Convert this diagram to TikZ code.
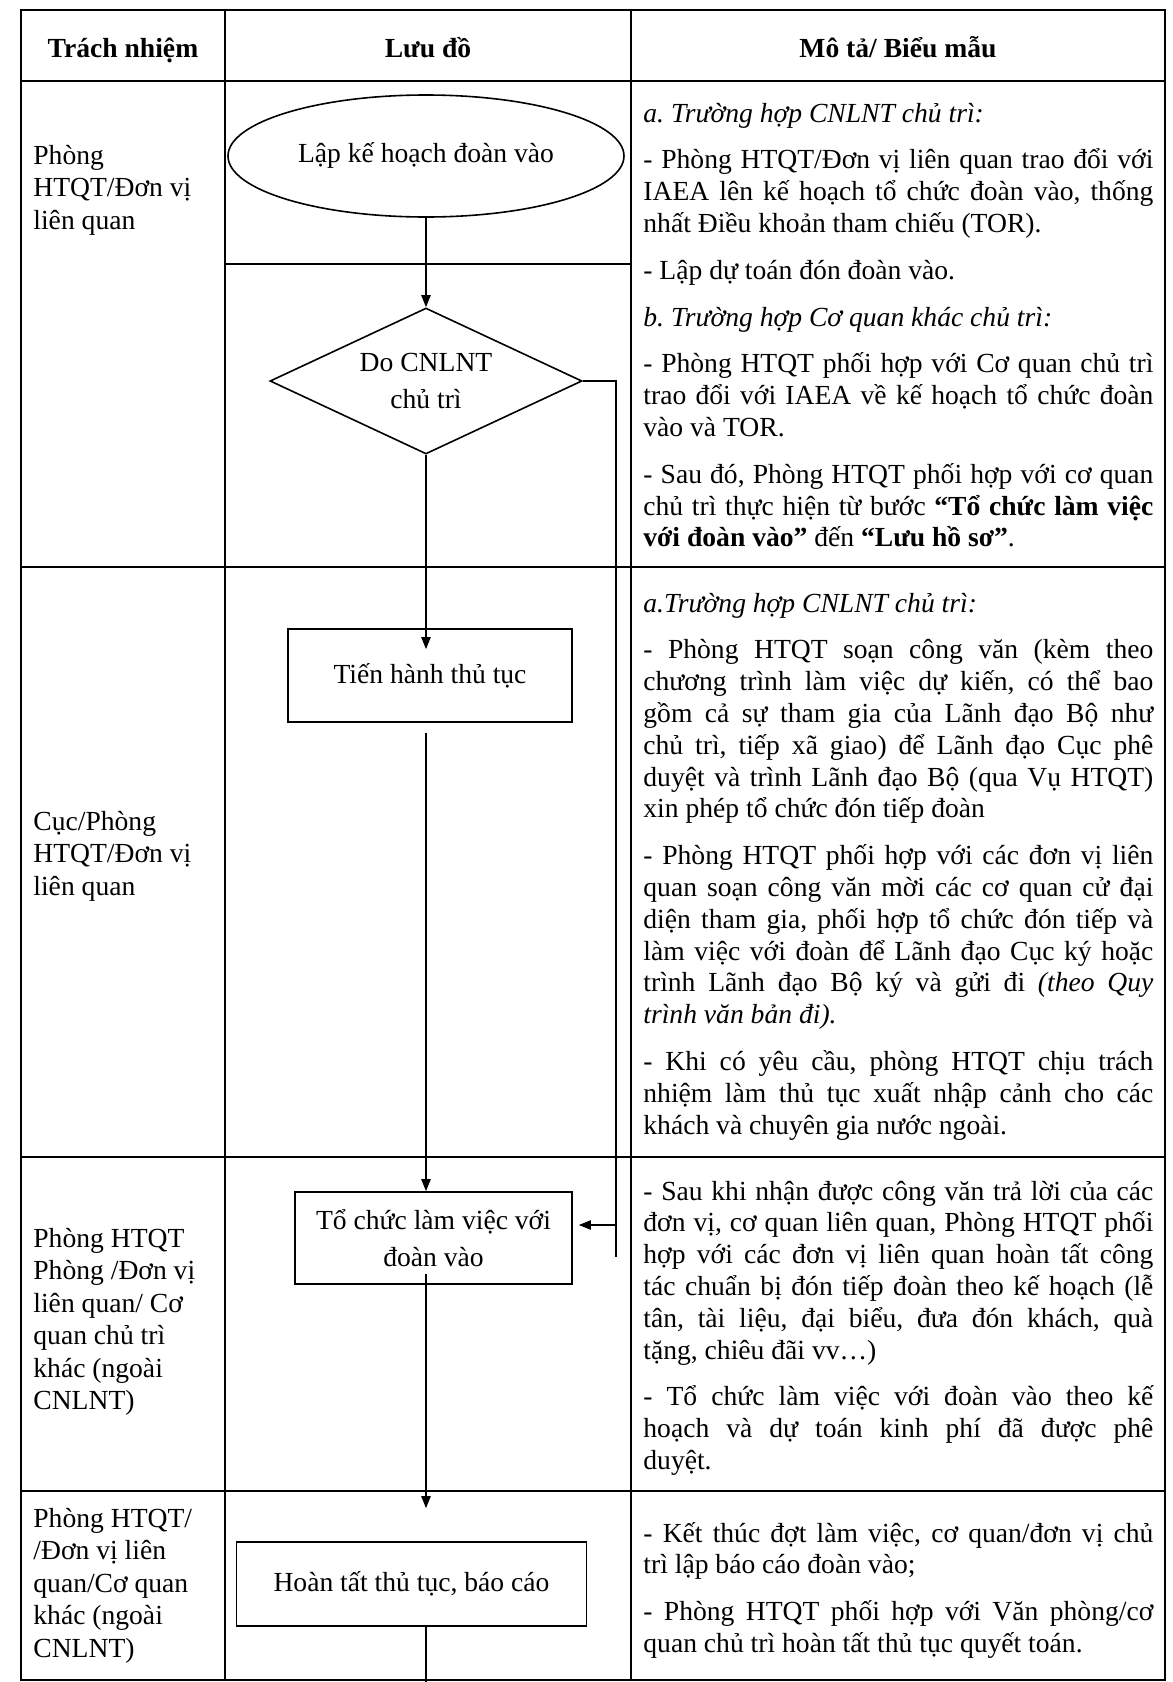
\documentclass[tikz,border=0pt]{standalone}
\usepackage{fontspec}
\setmainfont{Liberation Serif}
\usetikzlibrary{shapes.geometric,arrows.meta}
\newcommand{\flowfont}{\fontsize{13.8pt}{18.5pt}\selectfont}
\newcommand{\np}{\par\vspace{7.5pt}}
\begin{document}
\frenchspacing
\hyphenpenalty=10000
\exhyphenpenalty=10000
\begin{tikzpicture}[x=0.5pt,y=-0.5pt,
  tbl/.style={line width=1.1pt},
  shp/.style={draw,line width=0.8pt,inner sep=0pt,align=center,font=\flowfont},
  flow/.style={line width=0.8pt},
  arr/.style={line width=0.8pt,-{Triangle[length=6pt,width=4.6pt]}},
  hdr/.style={anchor=base,inner sep=0pt,font=\bfseries\fontsize{13.8pt}{16pt}\selectfont},
  who/.style={anchor=base west,text width=90pt,align=flush left,inner sep=0pt,font=\fontsize{13.8pt}{16.25pt}\selectfont},
  desc/.style={anchor=base west,text width=255pt,align=justify,inner sep=0pt,font=\fontsize{13.8pt}{15.9pt}\selectfont},
]
\useasboundingbox (0,0) rectangle (1173,1682);
\fill[white] (0,0) rectangle (1173,1682);

% table
\draw[tbl] (21,10) rectangle (1165,1680);
\draw[tbl] (21,81) -- (1165,81);
\draw[tbl] (21,567) -- (1165,567);
\draw[tbl] (21,1157) -- (1165,1157);
\draw[tbl] (21,1491) -- (1165,1491);
\draw[tbl] (225,10) -- (225,1680);
\draw[tbl] (631,10) -- (631,1680);
\draw[tbl] (225,264) -- (631,264);

% headers
\node[hdr] (h1) at (123,57) {Trách nhiệm};
\node[hdr] (h2) at (428,57) {Lưu đồ};
\node[hdr] (h3) at (898,57) {Mô tả/ Biểu mẫu};

% responsibility column
\node[who] (w1) at (33,164) {Phòng\\HTQT/Đơn vị\\liên quan};
\node[who] (w2) at (33,830) {Cục/Phòng\\HTQT/Đơn vị\\liên quan};
\node[who] (w3) at (33,1247) {Phòng HTQT\\Phòng /Đơn vị\\liên quan/ Cơ\\quan chủ trì\\khác (ngoài\\CNLNT)};
\node[who] (w4) at (33,1527) {Phòng HTQT/\\/Đơn vị liên\\quan/Cơ quan\\khác (ngoài\\CNLNT)};

% flowchart
\node[ellipse,shp,minimum width=198pt,minimum height=61pt] (ell) at (426,156) {\raisebox{3pt}{Lập kế hoạch đoàn vào}};
\node[diamond,shp,aspect=2.1,minimum width=156pt,minimum height=73pt] (dia) at (426,381) {Do CNLNT\\chủ trì};
\node[rectangle,shp,minimum width=142pt,minimum height=46.5pt] (tien) at (430,675.5) {Tiến hành thủ tục};
\node[rectangle,shp,minimum width=138.5pt,minimum height=46pt] (toch) at (433.5,1238) {Tổ chức làm việc với\\đoàn vào};
\node[rectangle,shp,minimum width=175pt,minimum height=42pt] (hoan) at (411.5,1584) {Hoàn tất thủ tục, báo cáo};

\coordinate (sideend) at (616,1257);
\coordinate (bottomend) at (426,1694);

\draw[arr] (ell.south) -- (dia.north);
\draw[arr] (dia.south) -- ([yshift=-10.5pt]tien.north -| dia.south);
\draw[arr] ([yshift=-5pt]tien.south -| dia.south) -- (toch.north -| dia.south);
\draw[arr] ([yshift=5.5pt]toch.south -| dia.south) -- ([yshift=16.5pt]hoan.north -| dia.south);
\draw[arr] (hoan.south -| dia.south) -- (bottomend);
\draw[flow] (dia.east) -- (dia.east -| sideend) -- (sideend);
\draw[arr,shorten >=3pt] ([yshift=6.5pt]toch.east -| sideend) -- ([yshift=6.5pt]toch.east);

% descriptions
\node[desc] (d1) at (643,122) {\textit{a. Trường hợp CNLNT chủ trì:}\np
- Phòng HTQT/Đơn vị liên quan trao đổi với \linebreak IAEA lên kế hoạch tổ chức đoàn vào, thống \linebreak nhất Điều khoản tham chiếu (TOR).\np
- Lập dự toán đón đoàn vào.\np
\textit{b. Trường hợp Cơ quan khác chủ trì:}\np
- Phòng HTQT phối hợp với Cơ quan chủ trì \linebreak trao đổi với IAEA về kế hoạch tổ chức đoàn \linebreak vào và TOR.\np
- Sau đó, Phòng HTQT phối hợp với cơ quan \linebreak chủ trì thực hiện từ bước \textbf{“Tổ chức làm việc} \linebreak \textbf{với đoàn vào”} đến \textbf{“Lưu hồ sơ”}.};

\node[desc] (d2) at (643,612) {\textit{a.Trường hợp CNLNT chủ trì:}\np
- Phòng HTQT soạn công văn (kèm theo \linebreak chương trình làm việc dự kiến, có thể bao \linebreak gồm cả sự tham gia của Lãnh đạo Bộ như \linebreak chủ trì, tiếp xã giao) để Lãnh đạo Cục phê \linebreak duyệt và trình Lãnh đạo Bộ (qua Vụ HTQT) \linebreak xin phép tổ chức đón tiếp đoàn\np
- Phòng HTQT phối hợp với các đơn vị liên \linebreak quan soạn công văn mời các cơ quan cử đại \linebreak diện tham gia, phối hợp tổ chức đón tiếp và \linebreak làm việc với đoàn để Lãnh đạo Cục ký hoặc \linebreak trình Lãnh đạo Bộ ký và gửi đi \textit{(theo Quy \linebreak trình văn bản đi).}\np
- Khi có yêu cầu, phòng HTQT chịu trách \linebreak nhiệm làm thủ tục xuất nhập cảnh cho các \linebreak khách và chuyên gia nước ngoài.};

\node[desc] (d3) at (643,1200) {- Sau khi nhận được công văn trả lời của các \linebreak đơn vị, cơ quan liên quan, Phòng HTQT phối \linebreak hợp với các đơn vị liên quan hoàn tất công \linebreak tác chuẩn bị đón tiếp đoàn theo kế hoạch (lễ \linebreak tân, tài liệu, đại biểu, đưa đón khách, quà \linebreak tặng, chiêu đãi vv…)\np
- Tổ chức làm việc với đoàn vào theo kế \linebreak hoạch và dự toán kinh phí đã được phê \linebreak duyệt.};

\node[desc] (d4) at (643,1542) {- Kết thúc đợt làm việc, cơ quan/đơn vị chủ \linebreak trì lập báo cáo đoàn vào;\np
- Phòng HTQT phối hợp với Văn phòng/cơ \linebreak quan chủ trì hoàn tất thủ tục quyết toán.};
\end{tikzpicture}
\end{document}
